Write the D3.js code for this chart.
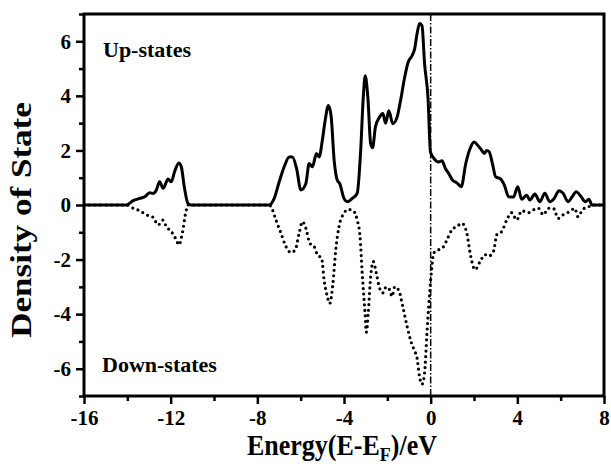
<!DOCTYPE html>
<html>
<head>
<meta charset="utf-8">
<script src="https://cdn.jsdelivr.net/npm/d3@7"></script>
<style>
  body { margin: 0; background: #fff; }
  svg text { font-family: "Liberation Serif", "DejaVu Serif", serif; font-weight: bold; fill: #000; }
</style>
</head>
<body>
<svg id="chart" width="611" height="464"></svg>
<script>
// spin-up density of states
var upEnergy = [-16, -14.05, -13.73, -13.43, -13.2, -12.97, -12.81, -12.66, -12.51, -12.35, -12.12, -11.97, -11.82, -11.62, -11.51, -11.36, -11.2, -11.05,
    -7.45, -7.22, -6.99, -6.76, -6.53, -6.38, -6.19, -5.99, -5.76, -5.61, -5.46, -5.27, -5.15, -5.0, -4.87, -4.72, -4.6, -4.45, -4.31, -4.2, -4.0, -3.85, -3.62, -3.39,
    -3.23, -3.11, -3.02, -2.9, -2.77, -2.68, -2.55, -2.36, -2.21, -2.08, -1.93, -1.75, -1.55, -1.39, -1.2, -1.04, -0.86, -0.74, -0.63, -0.51, -0.40, -0.28, -0.12, -0.01,
    0.14, 0.37, 0.52, 0.68, 0.83, 1.01, 1.21, 1.41, 1.62, 1.82, 2.01, 2.17, 2.36, 2.48, 2.58, 2.7, 2.85, 3.0, 3.2, 3.4, 3.6, 3.82, 4.02, 4.2, 4.43, 4.58, 4.81,
    5.04, 5.27, 5.5, 5.7, 5.92, 6.11, 6.34, 6.53, 6.72, 6.93, 7.14, 7.3, 7.45, 8];
var upDos = [0, 0, 0.16, 0.24, 0.30, 0.45, 0.42, 0.55, 0.85, 0.61, 0.95, 0.85, 1.22, 1.54, 1.40, 0.61, 0.05, 0,
    0, 0.24, 0.85, 1.40, 1.76, 1.76, 1.34, 0.55, 0.79, 1.52, 1.40, 1.89, 1.76, 2.37, 3.1, 3.65, 3.3, 1.6, 0.91, 0.79, 0.24, 0.12, 0.24, 0.43,
    2.0, 3.95, 4.74, 3.95, 2.25, 2.1, 2.86, 3.22, 3.35, 3.0, 3.45, 2.98, 3.22, 3.83, 4.68, 5.23, 5.47, 5.72, 6.27, 6.65, 6.57, 5.17, 3.89, 1.95,
    1.72, 1.58, 1.62, 1.34, 1.16, 0.91, 0.81, 0.67, 1.52, 2.07, 2.31, 2.19, 2.0, 1.89, 2.0, 1.95, 1.52, 1.03, 0.97, 0.73, 0.3, 0.29, 0.67, 0.21, 0.36, 0.18, 0.40,
    0.12, 0.43, 0.12, 0.24, 0.52, 0.43, 0.12, 0.30, 0.49, 0.32, 0.12, 0.21, 0, 0];

// spin-down density of states
var downEnergy = [-16, -14.05, -13.73, -13.43, -13.12, -12.81, -12.58, -12.35, -12.2, -11.97, -11.74, -11.62, -11.46, -11.31, -11.2,
    -7.45, -7.37, -7.14, -6.91, -6.68, -6.45, -6.25, -6.07, -5.92, -5.76, -5.58, -5.38, -5.23, -5.03, -4.92, -4.77, -4.66, -4.51, -4.38, -4.23, -4.0, -3.80, -3.54,
    -3.39, -3.26, -3.16, -3.03, -2.97, -2.88, -2.77, -2.65, -2.51, -2.36, -2.21, -2.05, -1.9, -1.78, -1.66, -1.47, -1.29, -1.09, -0.89, -0.74, -0.63, -0.52, -0.40,
    -0.28, -0.17, -0.09, 0.03, 0.14, 0.37, 0.6, 0.75, 0.98, 1.21, 1.44, 1.67, 1.82, 2.05, 2.28, 2.51, 2.66, 2.9, 3.05, 3.28, 3.51, 3.74, 3.97, 4.2, 4.51, 4.74,
    4.97, 5.2, 5.43, 5.66, 5.89, 6.11, 6.42, 6.65, 6.8, 7.03, 7.26, 7.45, 8];
var downDos = [0, 0, -0.12, -0.21, -0.36, -0.45, -0.73, -0.55, -0.79, -0.97, -1.28, -1.46, -1.03, -0.30, 0,
    0, -0.06, -0.55, -1.03, -1.52, -1.74, -1.64, -1.03, -0.61, -0.85, -1.40, -1.52, -1.82, -1.95, -2.74, -3.35, -3.61, -2.86, -1.64, -0.79, -0.30, -0.16, -0.24,
    -0.55, -1.16, -2.49, -3.95, -4.66, -3.95, -2.62, -2.07, -2.49, -3.04, -3.22, -3.0, -3.1, -3.35, -3.0, -3.13, -3.71, -4.44, -5.05, -5.35, -5.6, -6.27, -6.57,
    -6.14, -4.68, -3.71, -2.49, -1.76, -1.64, -1.52, -1.28, -0.91, -0.79, -0.67, -1.03, -1.76, -2.37, -2.07, -1.82, -1.88, -1.70, -1.09, -0.97, -0.55, -0.28, -0.55, -0.21, -0.28, -0.18,
    -0.12, -0.36, -0.12, -0.12, -0.49, -0.36, -0.24, -0.12, -0.43, -0.15, -0.08, 0, 0];

var xTicks = [-16, -12, -8, -4, 0, 4, 8];
var yTicks = [-6, -4, -2, 0, 2, 4, 6];

function drawChart() {
    var svg = d3.select("#chart");
    var m = {left: 84, right: 604, top: 14, bottom: 396};

    var x = d3.scaleLinear().domain([-16, 8]).range([m.left, m.right]);
    var y = d3.scaleLinear().domain([-7, 7]).range([m.bottom, m.top]);

    var up = upEnergy.map(function(e, i) { return [e, upDos[i]]; });
    var down = downEnergy.map(function(e, i) { return [e, downDos[i]]; });

    var line = d3.line()
        .x(function(d) { return x(d[0]); })
        .y(function(d) { return y(d[1]); })
        .curve(d3.curveMonotoneX);

    // fermi level
    svg.append("line")
        .attr("x1", x(0)).attr("x2", x(0))
        .attr("y1", m.top).attr("y2", m.bottom)
        .attr("stroke", "#000")
        .attr("stroke-width", 1.5)
        .attr("stroke-dasharray", "7 2 1.5 2");

    // down-states, dotted
    svg.append("path")
        .datum(down)
        .attr("d", line)
        .attr("fill", "none")
        .attr("stroke", "#000")
        .attr("stroke-width", 3.2)
        .attr("stroke-linecap", "round")
        .attr("stroke-dasharray", "0 5.5");

    // up-states, solid
    svg.append("path")
        .datum(up)
        .attr("d", line)
        .attr("fill", "none")
        .attr("stroke", "#000")
        .attr("stroke-width", 3)
        .attr("stroke-linejoin", "round");

    // x axis with minor ticks
    var xAxis = svg.append("g").attr("transform", "translate(0," + m.bottom + ")");
    xAxis.call(d3.axisBottom(x).tickValues(d3.range(-14, 8, 4)).tickSize(5).tickFormat(""));
    xAxis.append("g").call(d3.axisBottom(x).tickValues(xTicks).tickSize(8).tickPadding(4)
        .tickFormat(function(d) { return d; }));
    xAxis.selectAll("text").attr("font-size", 21).attr("dy", "0.8em");

    var yAxis = svg.append("g").attr("transform", "translate(" + m.left + ",0)");
    yAxis.call(d3.axisLeft(y).tickValues(d3.range(-7, 8, 2)).tickSize(5).tickFormat(""));
    yAxis.append("g").call(d3.axisLeft(y).tickValues(yTicks).tickSize(8).tickPadding(5)
        .tickFormat(function(d) { return d; }));
    yAxis.selectAll("text").attr("font-size", 21);

    svg.selectAll(".domain").remove();
    svg.selectAll(".tick line").attr("stroke", "#000").attr("stroke-width", 2.5);
    svg.selectAll(".tick text").style("font-family", "Liberation Serif").style("font-weight", "bold");

    // frame
    svg.append("rect")
        .attr("x", m.left).attr("y", m.top)
        .attr("width", m.right - m.left).attr("height", m.bottom - m.top)
        .attr("fill", "none")
        .attr("stroke", "#000")
        .attr("stroke-width", 3);

    svg.append("text").attr("x", 103).attr("y", 57).attr("font-size", 22).text("Up-states");
    svg.append("text").attr("x", 102).attr("y", 372).attr("font-size", 22).text("Down-states");

    // axis titles
    var xt = svg.append("text")
        .attr("transform", "translate(" + ((m.left + m.right) / 2 - 2) + ",455) scale(1,1.1)")
        .attr("text-anchor", "middle")
        .attr("font-size", 26);
    xt.append("tspan").text("Energy(E-E");
    xt.append("tspan").attr("font-size", 18).attr("dy", 5).text("F");
    xt.append("tspan").attr("dy", -5).text(")/eV");

    svg.append("text")
        .attr("transform", "translate(31,220) rotate(-90) scale(1.17,1)")
        .attr("text-anchor", "middle")
        .attr("font-size", 30)
        .text("Density of State");
}

drawChart();
</script>
</body>
</html>
